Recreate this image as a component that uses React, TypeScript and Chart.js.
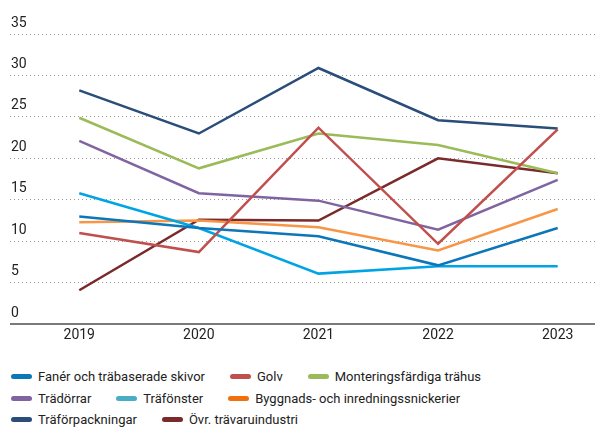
import React, { useEffect, useRef } from "react";
import { Chart, registerables } from "chart.js";

Chart.register(...registerables);

const years = [2019, 2020, 2021, 2022, 2023];
const yTicks = [0, 5, 10, 15, 20, 25, 30, 35];

const seriesNames = [
  "Fanér och träbaserade skivor",
  "Golv",
  "Monteringsfärdiga trähus",
  "Trädörrar",
  "Träfönster",
  "Byggnads- och inredningssnickerier",
  "Träförpackningar",
  "Övr. trävaruindustri",
];

const faner = [13.0, 11.6, 10.6, 7.1, 11.6];
const golv = [11.0, 8.7, 23.7, 9.7, 23.5];
const montering = [24.9, 18.8, 23.0, 21.6, 18.2];
const tradorrar = [22.1, 15.8, 14.9, 11.4, 17.4];
const trafonster = [15.8, 11.6, 6.1, 7.0, 7.0];
const byggnads = [12.3, 12.5, 11.7, 8.9, 13.9];
const traforpackningar = [28.2, 23.0, 30.9, 24.6, 23.6];
const ovrigt = [4.1, 12.6, 12.5, 20.0, 18.2];

const seriesValues = [faner, golv, montering, tradorrar, trafonster, byggnads, traforpackningar, ovrigt];

const lineColors = ["#0b76b8", "#c0504d", "#9bbb59", "#8064a2", "#00a4e4", "#f79646", "#2a4d7a", "#7a2a2a"];
const legendColors = ["#0b76b8", "#c0504d", "#9bbb59", "#8064a2", "#4bacc6", "#f07010", "#2a4d7a", "#7a2a2a"];
const legendRows = [[0, 1, 2], [3, 4, 5], [6, 7]];

const FONT = "Roboto, 'Noto Sans', sans-serif";

export default function App() {
  const canvasRef = useRef<HTMLCanvasElement | null>(null);

  useEffect(() => {
    document.body.style.margin = "0";
    const canvas = canvasRef.current;
    if (!canvas) return;
    const chart = new Chart(canvas, {
      type: "line",
      data: {
        datasets: seriesNames.map((name, i) => ({
          label: name,
          data: years.map((y, j) => ({ x: y, y: seriesValues[i][j] })),
          borderColor: lineColors[i],
          backgroundColor: lineColors[i],
          borderWidth: 2.5,
          pointRadius: 0,
          tension: 0,
          fill: false,
        })),
      },
      options: {
        animation: false,
        responsive: false,
        maintainAspectRatio: false,
        layout: { padding: { left: 8, right: 3, top: 34, bottom: 3 } },
        plugins: { legend: { display: false }, tooltip: { enabled: false } },
        scales: {
          x: {
            type: "linear",
            min: 2018.421,
            max: 2023.312,
            afterBuildTicks: (scale: any) => {
              scale.ticks = years.map((v) => ({ value: v }));
            },
            grid: { display: false, drawTicks: false },
            border: { display: false },
            ticks: {
              callback: (v: any) => String(v),
              font: { family: FONT, size: 14 },
              color: "#222",
              padding: 3,
              maxRotation: 0,
              autoSkip: false,
            },
          },
          y: {
            min: 0,
            max: 35,
            afterBuildTicks: (scale: any) => {
              scale.ticks = yTicks.map((v) => ({ value: v }));
            },
            grid: {
              drawTicks: false,
              color: (ctx: any) => (ctx.tick && ctx.tick.value === 0 ? "#7a7a7a" : "#9a9a9a"),
              lineWidth: (ctx: any) => (ctx.tick && ctx.tick.value === 0 ? 2 : 1),
            },
            border: {
              display: false,
              dash: (ctx: any) => (ctx.tick && ctx.tick.value === 0 ? [] : [1, 3]),
            },
            ticks: {
              mirror: true,
              padding: 1,
              labelOffset: -11,
              font: { family: FONT, size: 14 },
              color: "#222",
            },
          },
        },
      },
    });
    return () => chart.destroy();
  }, []);

  return (
    <div style={{ position: "absolute", left: 0, top: 0, width: 598, height: 427, background: "#fff" }}>
      <canvas ref={canvasRef} width={598} height={350} style={{ display: "block", width: 598, height: 350 }} />
      <div style={{ position: "absolute", left: 11, top: 366, fontFamily: FONT, fontSize: 13, color: "#222" }}>
        {legendRows.map((row, r) => (
          <div key={r} style={{ display: "flex", alignItems: "center", height: 21.5 }}>
            {row.map((i) => (
              <div key={i} style={{ display: "flex", alignItems: "center", marginRight: 25 }}>
                <span
                  style={{
                    display: "inline-block",
                    width: 21,
                    height: 5,
                    borderRadius: 3,
                    background: legendColors[i],
                    marginRight: 6,
                  }}
                />
                <span style={{ whiteSpace: "nowrap" }}>{seriesNames[i]}</span>
              </div>
            ))}
          </div>
        ))}
      </div>
    </div>
  );
}
